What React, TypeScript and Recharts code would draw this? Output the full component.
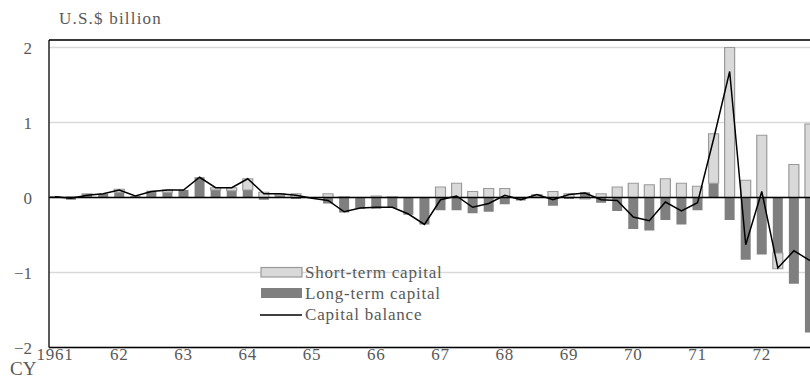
import React from 'react';
import {
    ComposedChart,
    Bar,
    Line,
    XAxis,
    YAxis,
    CartesianGrid,
    ReferenceLine,
    Legend,
} from 'recharts';

// quarterly, CY1961 Q1 .. CY1972 Q4
const years = ['61', '62', '63', '64', '65', '66', '67', '68', '69', '70', '71', '72'];
const quarters = years.flatMap((y) => [`${y}Q1`, `${y}Q2`, `${y}Q3`, `${y}Q4`]);
const yearTicks = years.map((y) => `${y}Q1`);
const yearLabels = ['1961', '62', '63', '64', '65', '66', '67', '68', '69', '70', '71', '72'];

const longTerm = [
    0.02, -0.03, 0.04, 0.05,
    0.07, 0.02, 0.09, 0.07,
    0.1, 0.27, 0.1, 0.09,
    0.1, -0.03, 0.03, -0.02,
    -0.01, -0.08, -0.2, -0.15,
    -0.15, -0.14, -0.23, -0.36,
    -0.17, -0.17, -0.21, -0.19,
    -0.09, -0.04, 0.01, -0.11,
    -0.02, 0.07, -0.07, -0.18,
    -0.42, -0.44, -0.3, -0.36,
    -0.17, 0.19, -0.3, -0.83,
    -0.76, -0.74, -1.15, -1.8,
];

const shortTerm = [
    0.0, 0.01, 0.01, 0.0,
    0.04, 0.0, 0.0, 0.03,
    0.0, 0.0, 0.03, 0.04,
    0.15, 0.07, 0.02, 0.05,
    0.0, 0.05, 0.01, 0.0,
    0.02, 0.01, 0.0, 0.0,
    0.14, 0.19, 0.08, 0.12,
    0.12, 0.0, 0.03, 0.08,
    0.05, -0.02, 0.05, 0.14,
    0.19, 0.17, 0.25, 0.19,
    0.15, 0.66, 2.0, 0.23,
    0.83, -0.21, 0.44, 0.98,
];

const balance = [
    0.01, -0.01, 0.03, 0.05,
    0.1, 0.02, 0.08, 0.1,
    0.1, 0.27, 0.13, 0.13,
    0.25, 0.05, 0.05, 0.03,
    -0.01, -0.04, -0.19, -0.14,
    -0.13, -0.13, -0.22, -0.36,
    -0.03, 0.02, -0.13, -0.08,
    0.03, -0.03, 0.04, -0.03,
    0.04, 0.06, -0.03, -0.04,
    -0.26, -0.31, -0.06, -0.18,
    -0.07, 0.78, 1.68, -0.63,
    0.08, -0.94, -0.71, -0.84,
];

const yTicks = [-2, -1, 0, 1, 2];

const rows = quarters.map((q, i) => ({
    q,
    long: longTerm[i],
    short: shortTerm[i],
    bal: balance[i],
}));

const FONT = '"Liberation Serif", serif';
const FS = 17;
const LS = 0.8;
const TEXT = '#595959';
const LIGHT = '#d9d9d9';
const LIGHT_EDGE = '#9a9a9a';
const DARK = '#7f7f7f';

const fmtYear = (v: string) => {
    const idx = yearTicks.indexOf(v);
    return idx >= 0 ? yearLabels[idx] : '';
};

const fmtY = (v: number) => (v < 0 ? `\u2212${Math.abs(v)}` : `${v}`);

const legendText = { fontFamily: FONT, fontSize: FS, fill: TEXT, letterSpacing: LS };

const LegendBox = () => (
    <svg width={220} height={70} style={{ display: 'block' }}>
        <rect x={3} y={5.5} width={41} height={9.5} fill={LIGHT} stroke={LIGHT_EDGE} strokeWidth={1.2} />
        <text x={47} y={16} style={legendText}>Short-term capital</text>
        <rect x={3} y={26} width={41} height={10} fill={DARK} />
        <text x={47} y={36.5} style={legendText}>Long-term capital</text>
        <line x1={2} y1={53} x2={44} y2={53} stroke="#000" strokeWidth={1.5} />
        <text x={47} y={57.5} style={legendText}>Capital balance</text>
    </svg>
);

export default function App() {
    return (
        <div
            style={{
                position: 'fixed',
                left: 0,
                top: 0,
                width: 810,
                height: 380,
                overflow: 'hidden',
                background: '#fff',
                fontFamily: FONT,
            }}
        >
            <div
                style={{
                    position: 'absolute',
                    left: 59,
                    top: 10,
                    fontSize: FS,
                    lineHeight: `${FS}px`,
                    letterSpacing: 1.2,
                    color: TEXT,
                }}
            >
                U.S.$ billion
            </div>
            <div style={{ position: 'absolute', left: 10, top: 359, fontSize: 19, lineHeight: '19px', color: TEXT }}>
                CY
            </div>
            <ComposedChart
                width={818}
                height={380}
                data={rows}
                stackOffset="sign"
                margin={{ top: 40, right: 0, bottom: 0, left: 0 }}
            >
                <CartesianGrid vertical={false} stroke={LIGHT} strokeWidth={1.3} />
                <XAxis
                    dataKey="q"
                    ticks={yearTicks}
                    interval={0}
                    tickFormatter={fmtYear}
                    height={32.5}
                    padding={{ left: -2, right: 0 }}
                    axisLine={{ stroke: '#000', strokeWidth: 1.3 }}
                    tickLine={false}
                    tickSize={0}
                    tickMargin={0}
                    tick={{ fill: TEXT, fontSize: FS, fontFamily: FONT, letterSpacing: LS }}
                />
                <YAxis
                    domain={[-2, 2.1]}
                    ticks={yTicks}
                    allowDataOverflow
                    width={49}
                    tickFormatter={fmtY}
                    axisLine={{ stroke: '#000', strokeWidth: 1.3 }}
                    tickLine={false}
                    tickSize={6}
                    tickMargin={11}
                    tick={{ fill: TEXT, fontSize: FS, fontFamily: FONT }}
                />
                <Legend
                    layout="vertical"
                    align="center"
                    verticalAlign="middle"
                    content={() => <LegendBox />}
                    wrapperStyle={{ left: 258, top: 262, width: 220, height: 70 }}
                />
                <Bar
                    dataKey="long"
                    name="Long-term capital"
                    stackId="cap"
                    fill={DARK}
                    barSize={10}
                    isAnimationActive={false}
                />
                <Bar
                    dataKey="short"
                    name="Short-term capital"
                    stackId="cap"
                    fill={LIGHT}
                    stroke={LIGHT_EDGE}
                    strokeWidth={1.2}
                    barSize={10}
                    isAnimationActive={false}
                />
                <ReferenceLine y={0} stroke="#000" strokeWidth={1.3} />
                <ReferenceLine y={2.1} stroke="#000" strokeWidth={1.3} />
                <Line
                    dataKey="bal"
                    name="Capital balance"
                    type="linear"
                    stroke="#000"
                    strokeWidth={1.5}
                    dot={false}
                    activeDot={false}
                    isAnimationActive={false}
                />
            </ComposedChart>
        </div>
    );
}
